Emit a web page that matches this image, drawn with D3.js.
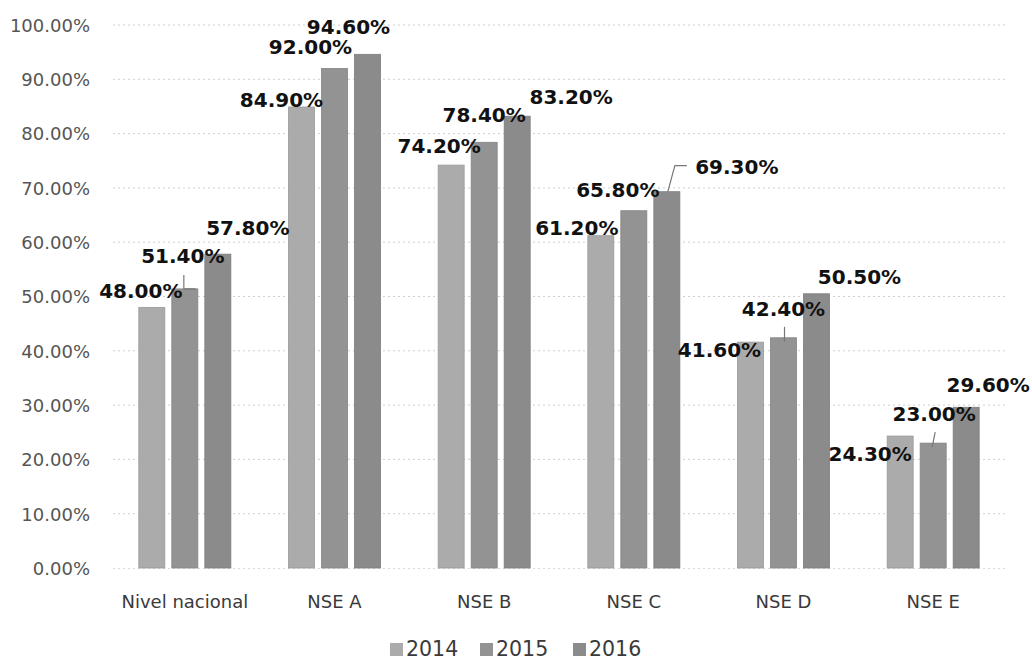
<!DOCTYPE html>
<html>
<head>
<meta charset="utf-8">
<script src="https://cdn.jsdelivr.net/npm/d3@7"></script>
<style>
  html, body { margin: 0; padding: 0; background: #fff; }
  svg { display: block; }
</style>
</head>
<body>
<svg id="chart" width="1032" height="661"></svg>
<script>
// ---- data ----
const categories = ["Nivel nacional", "NSE A", "NSE B", "NSE C", "NSE D", "NSE E"];
const years = ["2014", "2015", "2016"];
const values2014 = [48.0, 84.9, 74.2, 61.2, 41.6, 24.3];
const values2015 = [51.4, 92.0, 78.4, 65.8, 42.4, 23.0];
const values2016 = [57.8, 94.6, 83.2, 69.3, 50.5, 29.6];
const yTicks = [0, 10, 20, 30, 40, 50, 60, 70, 80, 90, 100];

// ---- label placement (like dragged Excel data labels): offsets from bar centre / bar top ----
const labelOffsets = [
  [[-11, -17], [-2, -33], [30, -26]],
  [[-20, -7], [-24, -22], [-19, -28]],
  [[-12, -19], [0, -27], [54, -19]],
  [[-24, -8], [-16, -21], [70, -25]],
  [[-31, 8], [0, -29], [43, -17]],
  [[-30, 18], [1, -29], [22, -22]]
];
// leader lines: [category, series, points as offsets from bar centre/top]
const leaders = [
  [0, 1, [[-1, -14], [-1, 0], [11, 0]]],
  [3, 2, [[1, 0], [8, -26], [20, -26]]],
  [4, 1, [[1, -11], [1, 4]]],
  [5, 1, [[2, -11], [-1, 4]]]
];

const series = [values2014, values2015, values2016];
const colors = ["#ababab", "#939393", "#8b8b8b"];

const svg = d3.select("#chart");
const plotLeft = 110, plotRight = 1008, yTop = 25, yBottom = 568;

const x0 = d3.scaleBand().domain(categories).range([plotLeft, plotRight])
  .paddingInner(0.385).paddingOuter(0.1925);
const x1 = d3.scaleBand().domain(years).range([0, x0.bandwidth()]).paddingInner(0.212);
const y = d3.scaleLinear().domain([0, 100]).range([yBottom, yTop]);

// gridlines
svg.append("g").selectAll("line").data(yTicks.filter(d => d > 0)).join("line")
  .attr("x1", plotLeft + 3).attr("x2", plotRight)
  .attr("y1", d => y(d)).attr("y2", d => y(d))
  .attr("stroke", "#cfcfcf").attr("stroke-width", 1)
  .attr("stroke-dasharray", "2,3");
svg.append("line")
  .attr("x1", plotLeft + 3).attr("x2", plotRight)
  .attr("y1", y(0) + 0.5).attr("y2", y(0) + 0.5)
  .attr("stroke", "#d9d9d9").attr("stroke-dasharray", "2,3");

// y axis labels
const yAxis = d3.axisLeft(y).tickValues(yTicks).tickSize(0).tickPadding(0)
  .tickFormat(d => d3.format(".2f")(d) + "%");
const yg = svg.append("g").attr("transform", `translate(90,0)`).call(yAxis);
yg.select(".domain").remove();
yg.selectAll("text").attr("font-family", "DejaVu Sans").attr("font-size", 18)
  .attr("fill", "#555").attr("dy", "0.35em");

// x axis labels
const xAxis = d3.axisBottom(x0).tickSize(0).tickPadding(0);
const xg = svg.append("g").attr("transform", `translate(0,${yBottom + 27})`).call(xAxis);
xg.select(".domain").remove();
xg.selectAll("text").attr("font-family", "DejaVu Sans").attr("font-size", 18)
  .attr("fill", "#3a3a3a").attr("dy", "0.71em");

// bars
const rows = [];
categories.forEach((c, ci) => {
  years.forEach((yr, si) => {
    rows.push({ c, ci, yr, si, v: series[si][ci] });
  });
});

svg.append("g").selectAll("rect").data(rows).join("rect")
  .attr("x", d => x0(d.c) + x1(d.yr))
  .attr("y", d => y(d.v))
  .attr("width", x1.bandwidth())
  .attr("height", d => y(0) - y(d.v))
  .attr("fill", d => colors[d.si])
  .attr("stroke", d => d3.color(colors[d.si]).darker(0.3))
  .attr("stroke-width", 0.8);

// leader lines
const barCx = (ci, si) => x0(categories[ci]) + x1(years[si]) + x1.bandwidth() / 2;
const barTop = (ci, si) => y(series[si][ci]);
svg.append("g").selectAll("polyline").data(leaders).join("polyline")
  .attr("points", d => d[2].map(p => [barCx(d[0], d[1]) + p[0], barTop(d[0], d[1]) + p[1]].join(",")).join(" "))
  .attr("fill", "none").attr("stroke", "#777").attr("stroke-width", 1.2);

// data labels
svg.append("g").selectAll("text").data(rows).join("text")
  .attr("x", d => barCx(d.ci, d.si) + labelOffsets[d.ci][d.si][0])
  .attr("y", d => barTop(d.ci, d.si) + labelOffsets[d.ci][d.si][1])
  .attr("dy", "0.36em")
  .attr("text-anchor", "middle")
  .attr("font-family", "DejaVu Sans").attr("font-weight", "bold").attr("font-size", 20)
  .attr("fill", "#111")
  .text(d => d3.format(".2f")(d.v) + "%");

// legend
const legendX = [390, 480, 573];
const lg = svg.append("g").selectAll("g").data(years).join("g")
  .attr("transform", (d, i) => `translate(${legendX[i]},643)`);
lg.append("rect").attr("width", 13).attr("height", 13).attr("fill", (d, i) => colors[i]);
lg.append("text").attr("x", 16).attr("y", 6).attr("dy", "0.36em")
  .attr("font-family", "DejaVu Sans").attr("font-size", 20.5).attr("fill", "#3a3a3a")
  .text(d => d);
</script>
</body>
</html>
